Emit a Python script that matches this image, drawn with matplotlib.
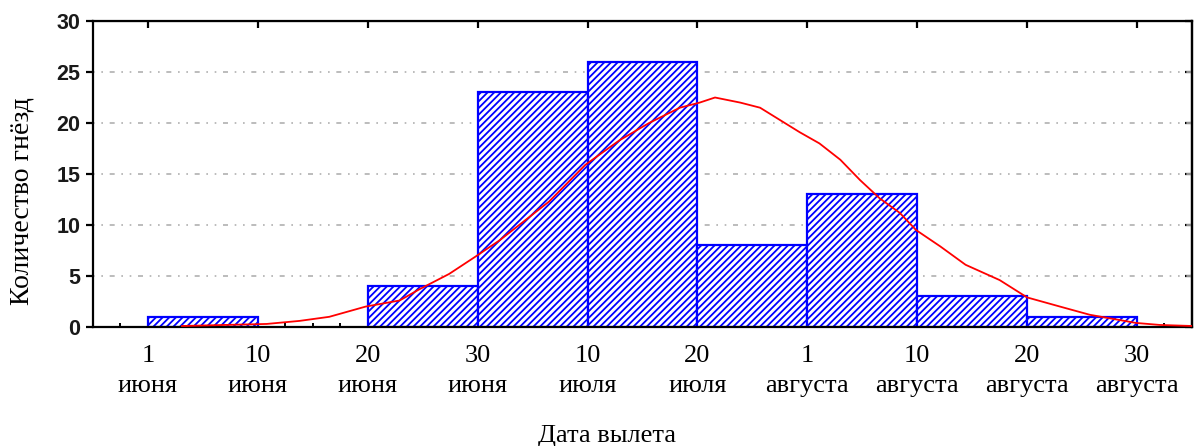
import matplotlib
matplotlib.use('Agg')
import matplotlib.pyplot as plt

# bins: 1 June .. 30 August, 10-day steps
tick_days = ['1', '10', '20', '30', '10', '20', '1', '10', '20', '30']
tick_months = ['июня', 'июня', 'июня', 'июня', 'июля', 'июля',
               'августа', 'августа', 'августа', 'августа']
counts = [1, 0, 4, 23, 26, 8, 13, 3, 1]

# fitted normal curve (x in bin units)
curve_x = [0.31, 1.08, 1.38, 1.65, 1.98, 2.29, 2.47, 2.74, 2.98, 3.20, 3.65,
           3.98, 4.29, 4.56, 4.84, 5.02, 5.16, 5.39, 5.57, 5.75, 5.93, 6.11,
           6.30, 6.48, 6.66, 6.84, 6.99, 7.21, 7.44, 7.75, 8.00, 8.30, 8.57,
           8.99, 9.21, 9.50]
curve_y = [0.1, 0.3, 0.6, 1.0, 2.0, 2.6, 3.7, 5.2, 6.9, 8.5, 12.3,
           15.9, 18.3, 20.0, 21.5, 22.0, 22.5, 22.0, 21.5, 20.3, 19.1, 18.0,
           16.4, 14.4, 12.6, 11.2, 9.5, 7.9, 6.1, 4.6, 2.9, 2.0, 1.2,
           0.4, 0.2, 0.1]

plt.rcParams['hatch.color'] = '#0000ff'
plt.rcParams['hatch.linewidth'] = 1.3

fig = plt.figure(figsize=(11.94, 4.46), dpi=100)
ax = fig.add_axes([0.0779, 0.2668, 0.9204, 0.6861])

bins = list(range(len(counts)))
for b, c in zip(bins, counts):
    if c > 0:
        ax.bar(b, c, width=1, align='edge', facecolor='white',
               edgecolor='#0000ff', linewidth=1.6, hatch='/////', zorder=2)

ax.plot(curve_x, curve_y, color='#ff0000', linewidth=1.3, zorder=3)

ax.set_xlim(-0.5, 9.5)
ax.set_ylim(0, 30)

# grid
for yv in [5, 10, 15, 20, 25]:
    ax.axhline(yv, color='#b0b0b0', linewidth=1.2,
               dashes=(1, 4, 1, 4, 3, 4), zorder=1)

for s in ax.spines.values():
    s.set_linewidth(1.6)
    s.set_color('black')

ax.set_yticks([0, 5, 10, 15, 20, 25, 30])
ax.set_yticklabels(['0', '5', '10', '15', '20', '25', '30'],
                   fontfamily='Liberation Sans', fontweight='bold',
                   fontsize=15.5, color='#1a1a1a')
ax.tick_params(axis='y', which='major', direction='out', length=5,
               width=1.6, left=True, right=False, pad=4)

# inward ticks on the right side
axr = ax.secondary_yaxis('right')
axr.set_yticks([0, 5, 10, 15, 20, 25, 30])
axr.set_yticklabels([])
axr.tick_params(direction='in', length=5, width=1.6)
axr.spines['right'].set_linewidth(1.6)

ax.set_xticks(range(len(tick_days)))
ax.set_xticklabels([d + '\n' + m for d, m in zip(tick_days, tick_months)],
                   fontfamily='Liberation Serif', fontsize=19,
                   linespacing=1.45)
ax.set_xticks([i / 4 - 0.5 for i in range(41)], minor=True)
ax.tick_params(axis='x', which='major', direction='in', length=0,
               top=True, pad=13)
ax.tick_params(axis='x', which='minor', direction='in', length=3,
               width=1.4, bottom=True, top=False)

axt = ax.secondary_xaxis('top')
axt.set_xticks(range(len(tick_days)))
axt.set_xticklabels([])
axt.tick_params(direction='in', length=5, width=1.6)

fig.text(22 / 1194, 1 - 201 / 446, 'Количество гнёзд', rotation=90,
         ha='center', va='center', fontfamily='Liberation Serif', fontsize=20)
fig.text(607 / 1194, 1 - 436 / 446, 'Дата вылета', ha='center', va='center',
         fontfamily='Liberation Serif', fontsize=19)

fig.savefig('out.png', dpi=100)
